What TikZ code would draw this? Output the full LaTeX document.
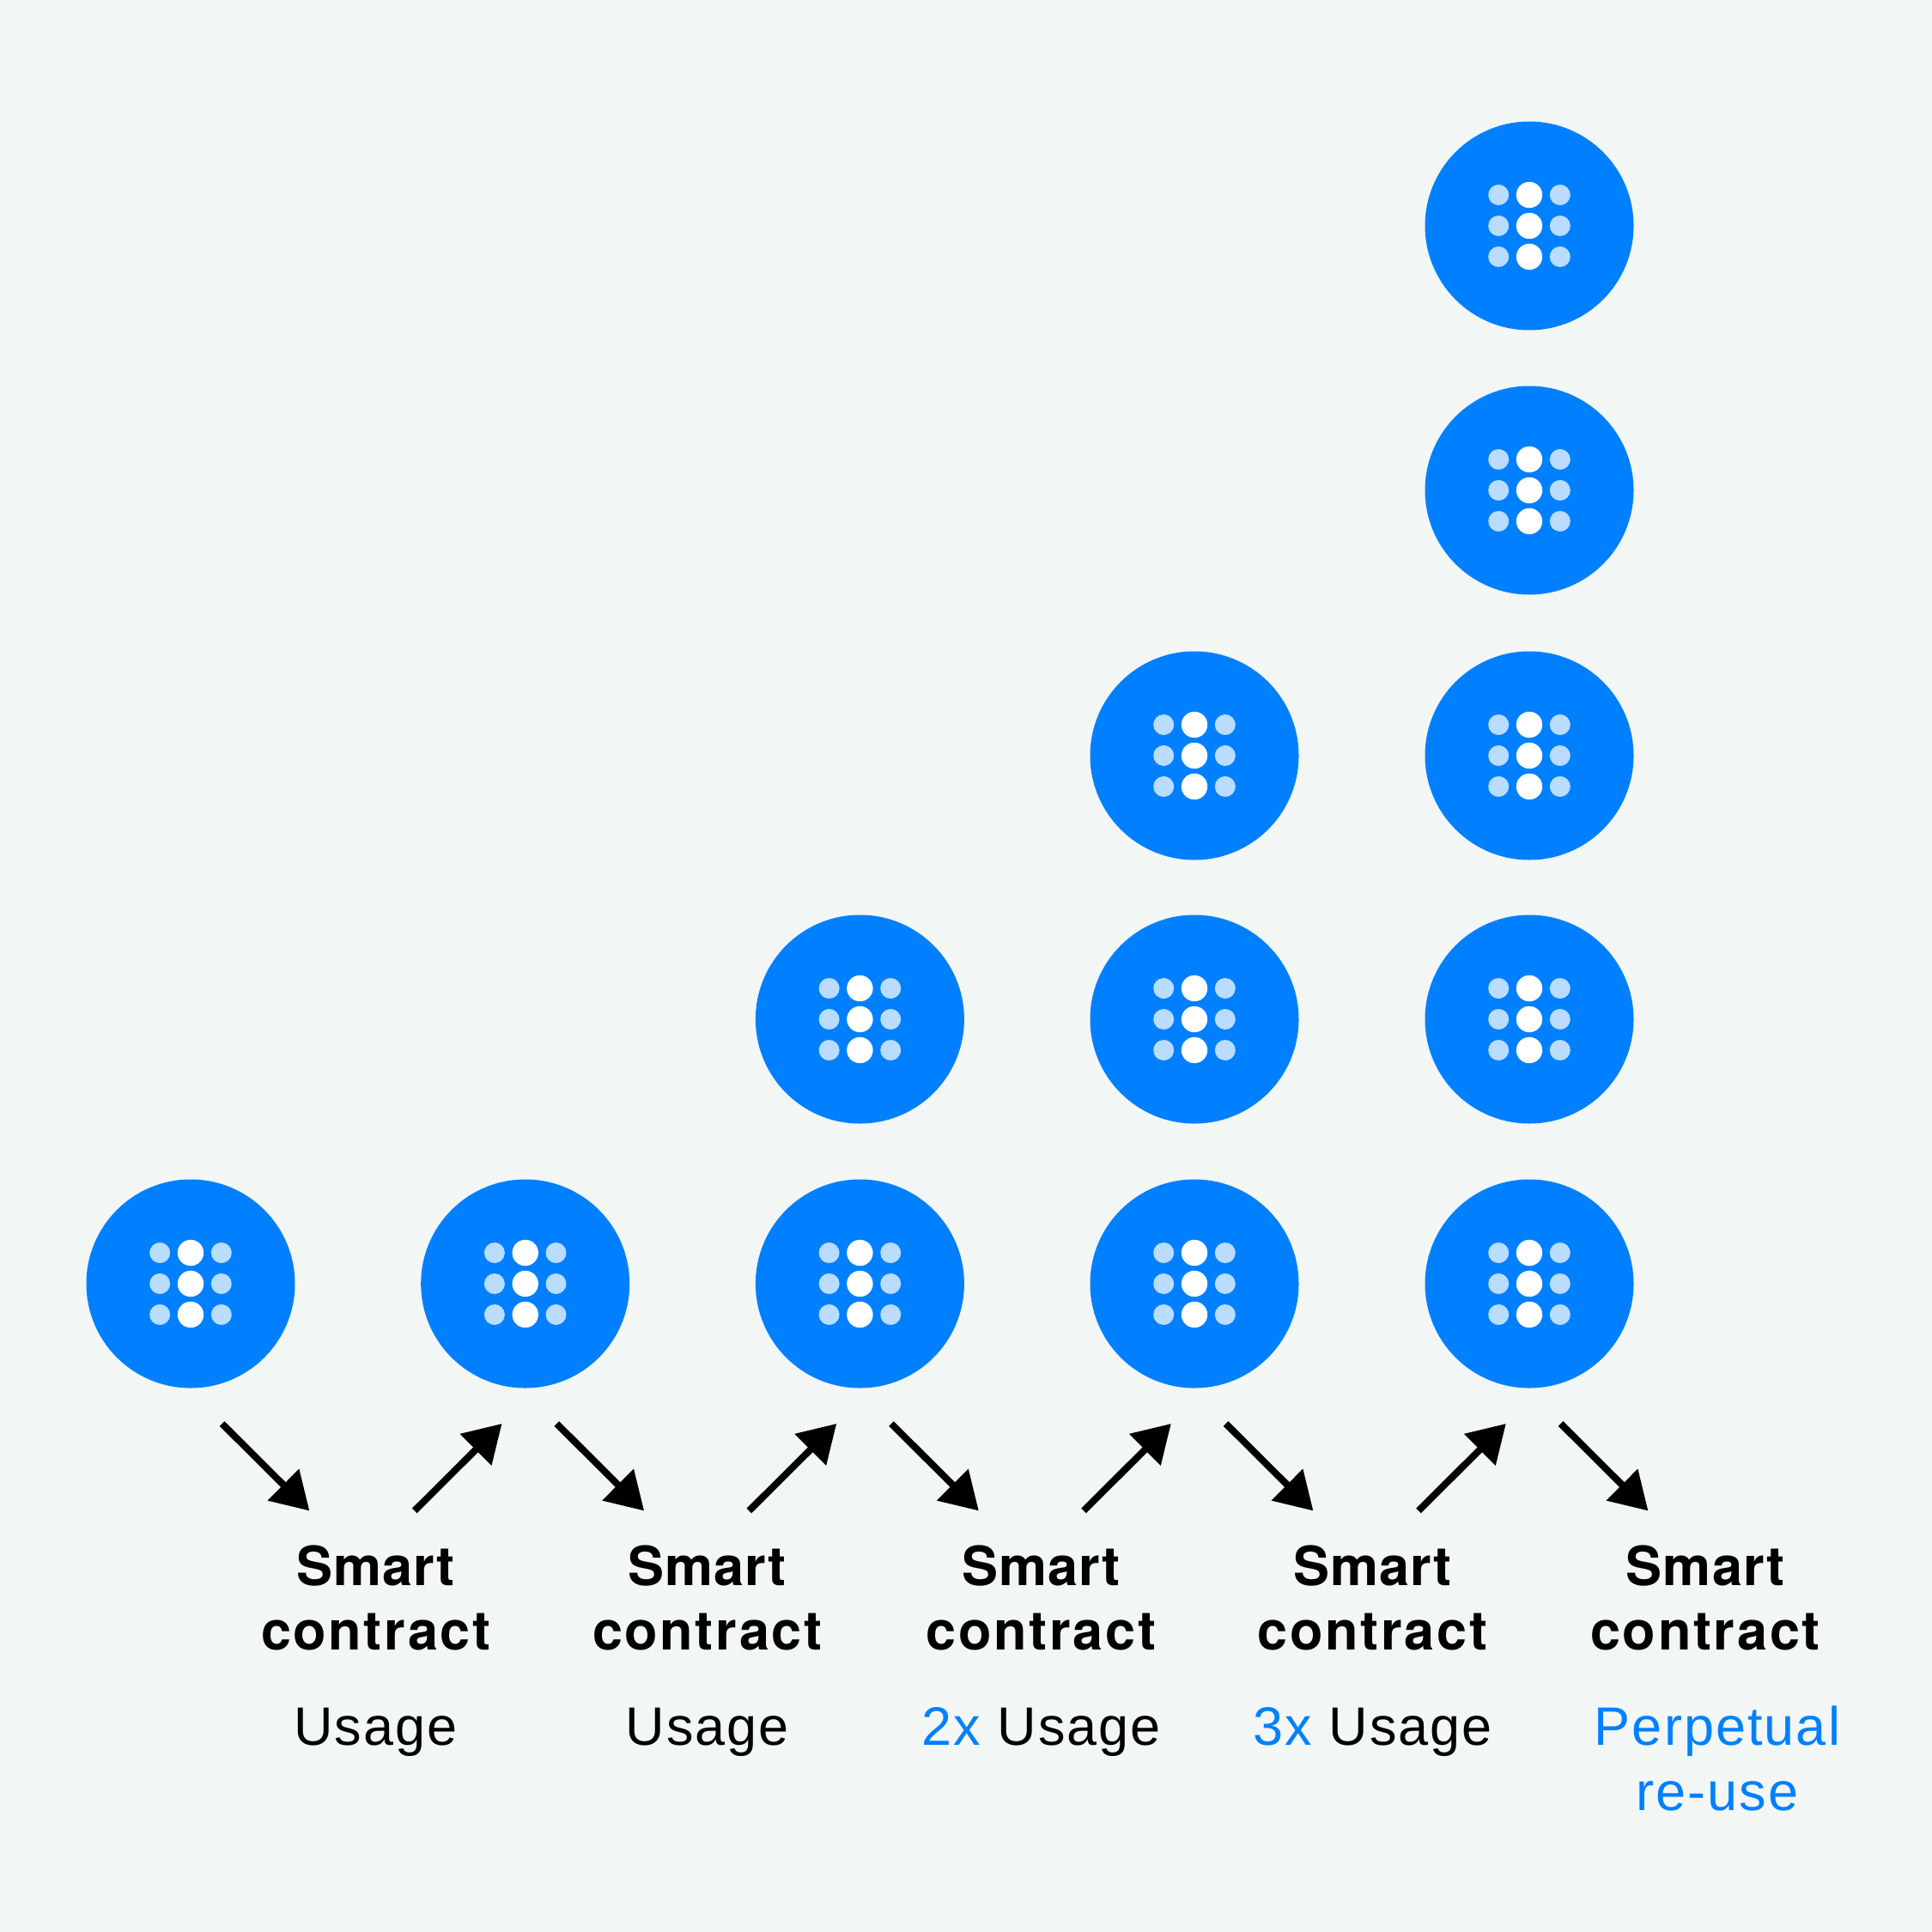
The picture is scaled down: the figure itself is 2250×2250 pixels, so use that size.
\documentclass[tikz,border=0pt]{standalone}
\usepackage{fontspec}
\setmainfont{TeX Gyre Heros}
\newfontfamily\boldlabel[LetterSpace=4.2]{TeX Gyre Heros Bold}
\newfontfamily\boldshort[LetterSpace=1.8]{TeX Gyre Heros Bold}
\newfontfamily\plainlabel[LetterSpace=3.3]{Liberation Sans}
\usetikzlibrary{arrows.meta}
\definecolor{pagebg}{HTML}{F2F6F5}
\definecolor{tokenblue}{HTML}{0080FF}
\definecolor{dotlight}{HTML}{B9DCFF}
\tikzset{
  token/.style={circle,fill=tokenblue,inner sep=0pt,minimum size=243pt},
  flow/.style={line width=8pt,-{Triangle[length=43pt,width=50pt]},black},
  titlelabel/.style={anchor=base,inner sep=0pt,font=\fontsize{63}{75}\selectfont\boldlabel},
  titleshort/.style={anchor=base,inner sep=0pt,font=\fontsize{63}{75}\selectfont\boldshort},
  notelabel/.style={anchor=base,inner sep=0pt,font=\fontsize{63}{75}\selectfont\plainlabel},
}
\newcommand{\tokendots}[1]{%
  \foreach \dy in {-36,0,36}{%
    \fill[white] ([yshift=\dy pt]#1.center) circle[radius=15.2pt];
    \fill[dotlight] ([xshift=-35.8pt,yshift=\dy pt]#1.center) circle[radius=12pt];
    \fill[dotlight] ([xshift=35.8pt,yshift=\dy pt]#1.center) circle[radius=12pt];
  }}
\begin{document}
\begin{tikzpicture}[x=1pt,y=-1pt]
\useasboundingbox (0,0) rectangle (2250,2250);
\fill[pagebg] (0,0) rectangle (2250,2250);
\foreach \name/\px/\py in {a1/222/1495,b1/611.7/1495,c1/1001.4/1495,d1/1391/1495,e1/1781/1495,
  c2/1001.4/1187,d2/1391/1187,e2/1781/1187,d3/1391/880,e3/1781/880,e4/1781/571,e5/1781/263}{
  \node[token] (\name) at (\px,\py) {};
  \tokendots{\name}
}
\foreach \i/\cx in {1/222,2/611.7,3/1001.4,4/1391,5/1781}{
  \coordinate (ds\i) at (\cx+36.6,1658);
  \coordinate (dt\i) at (\cx+138.4,1759.4);
  \coordinate (us\i) at (\cx-129,1759.4);
  \coordinate (ut\i) at (\cx-27.2,1658);
}
\foreach \i in {1,...,5}{\draw[flow] (ds\i) -- (dt\i);}
\foreach \i in {2,...,5}{\draw[flow] (us\i) -- (ut\i);}
\foreach \i/\tx in {1/437.7,2/823.7,3/1212.6,4/1598.6,5/1986}{
  \node[titleshort] (sm\i) at (\tx,1846.5) {Smart};
  \node[titlelabel] (co\i) at (\tx,1921.5) {contract};
}
\node[notelabel] (u1) at (437.7,2032.5) {Usage};
\node[notelabel] (u2) at (823.7,2032.5) {Usage};
\node[notelabel] (u3) at (1212.6,2032.5) {\textcolor{tokenblue}{2x} Usage};
\node[notelabel] (u4) at (1598.6,2032.5) {\textcolor{tokenblue}{3x} Usage};
\node[notelabel,text=tokenblue] (u5) at (2000,2032.5) {Perpetual};
\node[notelabel,text=tokenblue] (u6) at (2000,2108) {re-use};
\end{tikzpicture}
\end{document}
